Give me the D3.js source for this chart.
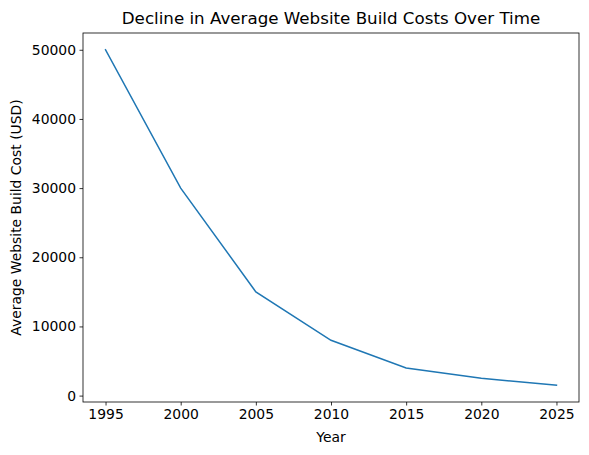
<!DOCTYPE html>
<html>
<head>
<meta charset="utf-8">
<script src="https://cdn.jsdelivr.net/npm/d3@7"></script>
<style>
  body { margin: 0; background: #fff; }
  svg { font-family: "DejaVu Sans", sans-serif; }
</style>
</head>
<body>
<svg id="chart" width="589" height="455"></svg>
<script>
// data
const years = [1995, 2000, 2005, 2010, 2015, 2020, 2025];
const costs = [50000, 30000, 15000, 8000, 4000, 2500, 1500];
const xTicks = [1995, 2000, 2005, 2010, 2015, 2020, 2025];
const yTicks = [0, 10000, 20000, 30000, 40000, 50000];

const margin = { left: 83, right: 10, top: 33, bottom: 53 };
const width = 589 - margin.left - margin.right;
const height = 455 - margin.top - margin.bottom;

const svg = d3.select("#chart");
const g = svg.append("g")
  .attr("transform", "translate(" + margin.left + "," + margin.top + ")");

// matplotlib style 5% padding
const xPad = (d3.max(years) - d3.min(years)) * 0.05;
const yPad = (d3.max(costs) - d3.min(costs)) * 0.05;
const x = d3.scaleLinear()
  .domain([d3.min(years) - xPad, d3.max(years) + xPad])
  .range([0, width]);
const y = d3.scaleLinear()
  .domain([d3.min(costs) - yPad, d3.max(costs) + yPad])
  .range([height, 0]);

const xAxis = g.append("g")
  .attr("transform", "translate(0," + height + ")")
  .call(d3.axisBottom(x).tickValues(xTicks).tickFormat(d3.format("d")).tickSize(3.5).tickPadding(3.5));
const yAxis = g.append("g")
  .call(d3.axisLeft(y).tickValues(yTicks).tickFormat(d3.format("d")).tickSize(3.5).tickPadding(3.5));

[xAxis, yAxis].forEach(a => {
  a.select(".domain").remove();
  a.selectAll("text").attr("font-size", "13.9px").attr("fill", "#000")
    .attr("font-family", "DejaVu Sans, sans-serif");
  a.selectAll("line").attr("stroke", "#000").attr("stroke-width", 0.8);
});

// frame
g.append("rect")
  .attr("width", width).attr("height", height)
  .attr("fill", "none").attr("stroke", "#000").attr("stroke-width", 0.8);

const line = d3.line()
  .x((d, i) => x(years[i]))
  .y(d => y(d));

g.append("path")
  .datum(costs)
  .attr("d", line)
  .attr("fill", "none")
  .attr("stroke", "#1f77b4")
  .attr("stroke-width", 1.5)
  .attr("stroke-linecap", "square");

svg.append("text")
  .attr("x", margin.left + width / 2).attr("y", 24)
  .attr("text-anchor", "middle")
  .attr("font-size", "16.7px")
  .text("Decline in Average Website Build Costs Over Time");

svg.append("text")
  .attr("x", margin.left + width / 2).attr("y", 442)
  .attr("text-anchor", "middle")
  .attr("font-size", "13.9px")
  .text("Year");

svg.append("text")
  .attr("transform", "translate(21," + (margin.top + height / 2) + ") rotate(-90)")
  .attr("text-anchor", "middle")
  .attr("font-size", "13.9px")
  .text("Average Website Build Cost (USD)");
</script>
</body>
</html>
